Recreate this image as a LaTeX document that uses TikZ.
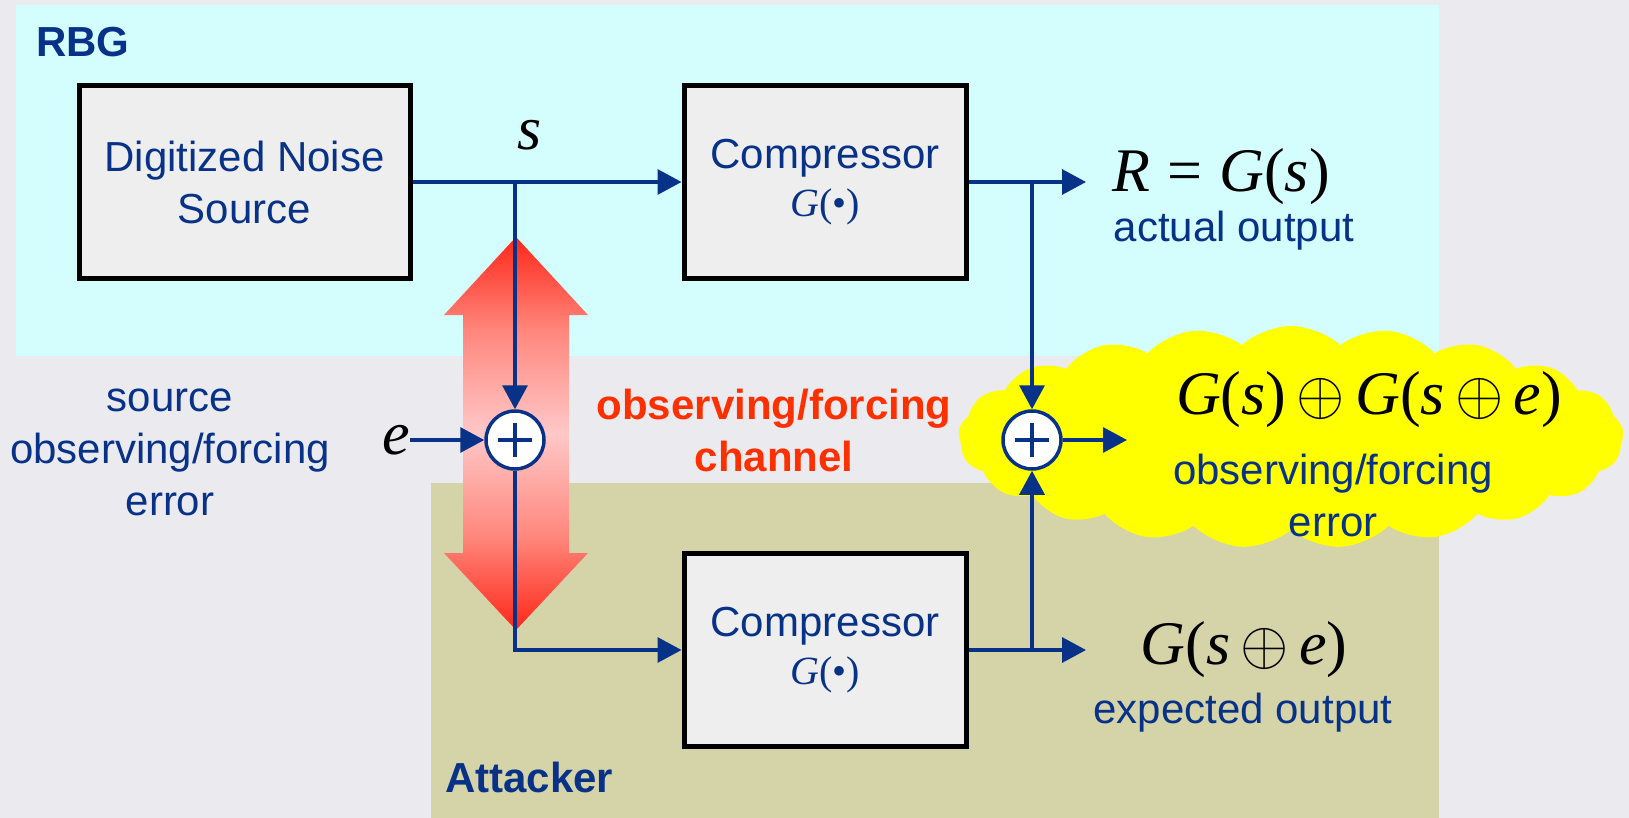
\documentclass[tikz,border=0pt]{standalone}
\usepackage{fix-cm}
\usepackage{fontspec}
\setmainfont{Liberation Sans}
\newfontfamily\tms{Liberation Serif}
\usetikzlibrary{arrows.meta,shapes.symbols}
\definecolor{bgc}{RGB}{235,235,239}
\definecolor{cyanp}{RGB}{212,253,253}
\definecolor{olivep}{RGB}{213,211,168}
\definecolor{navy}{RGB}{8,50,135}
\definecolor{boxfill}{RGB}{238,238,238}
\definecolor{redtxt}{RGB}{255,48,0}
\definecolor{arrred}{RGB}{255,40,25}
\definecolor{arrmid}{RGB}{255,135,125}
\definecolor{arrpink}{RGB}{255,200,200}
\definecolor{cloudy}{RGB}{255,255,0}
\pgfdeclareverticalshading{chanshade}{100bp}{color(0bp)=(arrred); color(25bp)=(arrred); color(37bp)=(arrmid); color(50bp)=(arrpink); color(63bp)=(arrmid); color(75bp)=(arrred); color(100bp)=(arrred)}
\newcommand{\tmi}[1]{{\tms\itshape #1}}
\newcommand{\tmr}[1]{{\tms #1}}
\newcommand{\xorop}{\,$\oplus$\,}
\begin{document}
\begin{tikzpicture}[x=1pt,y=-1pt,
  blockbox/.style={draw=black, line width=5pt, fill=boxfill, inner sep=0pt,
    text=navy, align=center, font=\fontsize{42}{52}\selectfont},
  sumc/.style={circle, draw=navy, line width=3.5pt, fill=white, minimum size=58pt, inner sep=0pt,
    path picture={\draw[navy, line width=3.5pt]
      ([xshift=-17pt]path picture bounding box.center) -- ([xshift=17pt]path picture bounding box.center)
      ([yshift=-17pt]path picture bounding box.center) -- ([yshift=17pt]path picture bounding box.center);}},
  sig/.style={draw=navy, line width=3.3pt},
  sigarr/.style={sig, -{Triangle[length=24pt,width=25pt]}},
  lbl/.style={text=navy, font=\fontsize{42}{52}\selectfont, align=center, inner sep=0pt},
  boldlbl/.style={text=navy, font=\fontsize{42}{52}\selectfont\bfseries, inner sep=0pt},
  redlbl/.style={text=redtxt, font=\fontsize{42}{52}\selectfont\bfseries, align=center, inner sep=0pt},
  mathlbl/.style={text=black, font=\fontsize{62}{70}\selectfont, inner sep=0pt},
]
\useasboundingbox (0,0) rectangle (1629,818);
\fill[bgc] (0,0) rectangle (1629,818);
% panels
\fill[cyanp] (16,5) rectangle (1439,356);
\fill[olivep] (431,483) rectangle (1439,818);
% cloud
\node[cloud, cloud puffs=21, cloud puff arc=85, cloud ignores aspect, fill=cloudy,
  minimum width=665pt, minimum height=222pt, inner sep=0pt] (cld) at (1291,437) {};
% red channel arrow
\shade[shading=chanshade] (516,237) -- (588,315) -- (569,315) -- (569,553) -- (588,553)
  -- (516,630) -- (444,553) -- (463,553) -- (463,315) -- (444,315) -- cycle;
% blocks
\node[blockbox, minimum width=331pt, minimum height=193pt] (src) at (244.5,182)
  {Digitized Noise\\Source};
\node[blockbox, minimum width=282pt, minimum height=193pt] (ctop) at (825,182)
  {Compressor\\[-4pt]{\color{navy}\fontsize{40}{44}\selectfont\tmi{G}\tmr{(\textbullet)}}};
\node[blockbox, minimum width=282pt, minimum height=193pt] (cbot) at (825,650)
  {Compressor\\[-4pt]{\color{navy}\fontsize{40}{44}\selectfont\tmi{G}\tmr{(\textbullet)}}};
% sums
\node[sumc] (sum1) at (515,440) {};
\node[sumc] (sum2) at (1032,440) {};
% coordinates
\coordinate (br1) at (515,182);
\coordinate (br2) at (1032,182);
\coordinate (br3) at (1032,650);
\coordinate (out1) at (1086,182);
\coordinate (out2) at (1086,650);
\coordinate (out3) at (1127,440);
% labels
\node[boldlbl, anchor=west] (rbg) at (36,42) {RBG};
\node[boldlbl, anchor=west] (att) at (445,777) {Attacker};
\node[mathlbl] (slbl) at (530,135) {\tmi{s}};
\node[mathlbl, anchor=east] (elbl) at (410,440) {\tmi{e}};
\node[lbl] (srcerr) at (170,452) {source\\observing/forcing\\error};
\node[redlbl] (chan) at (774,430) {observing/forcing\\channel};
\node[mathlbl] (rout) at (1221,177) {\tmi{R} \tmr{=} \tmi{G}\tmr{(}\tmi{s}\tmr{)}};
\node[lbl] (act) at (1234,231) {actual output};
\node[mathlbl] (diff) at (1369,400) {\tmi{G}\tmr{(}\tmi{s}\tmr{)}\xorop\tmi{G}\tmr{(}\tmi{s}\xorop\tmi{e}\tmr{)}};
\node[lbl] (oferr) at (1333,495) {observing/forcing\\error};
\node[mathlbl] (gse) at (1244,650) {\tmi{G}\tmr{(}\tmi{s}\xorop\tmi{e}\tmr{)}};
\node[lbl] (exp) at (1243,713) {expected output};
% connectors
\draw[sigarr] (src.east) -- (ctop.west);
\draw[sigarr] (br1) -- (sum1.north);
\draw[sigarr] (sum1.south) |- (cbot.west);
\draw[sigarr] (elbl.east) -- (sum1.west);
\draw[sigarr] (ctop.east) -- (out1);
\draw[sigarr] (br2) -- (sum2.north);
\draw[sigarr] (cbot.east) -- (out2);
\draw[sigarr] (br3) -- (sum2.south);
\draw[sigarr] (sum2.east) -- (out3);
\end{tikzpicture}
\end{document}
